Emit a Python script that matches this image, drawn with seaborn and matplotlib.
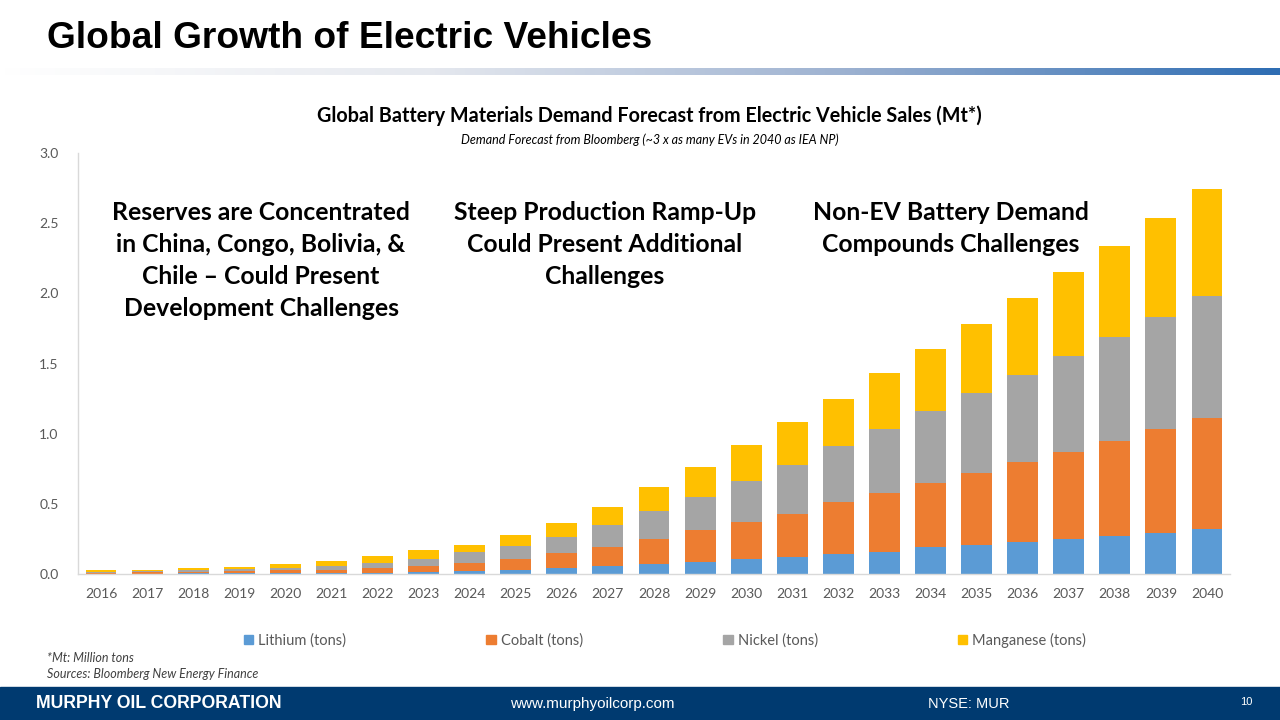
import numpy as np
import pandas as pd
import seaborn as sns
import matplotlib.pyplot as plt
from matplotlib.colors import LinearSegmentedColormap
from matplotlib.patches import Rectangle, Patch

years = [str(y) for y in range(2016, 2041)]
lithium = [0.002, 0.003, 0.004, 0.005, 0.006, 0.008, 0.010, 0.015, 0.020, 0.030, 0.043, 0.057,
           0.071, 0.086, 0.107, 0.12, 0.14, 0.16, 0.19, 0.21, 0.23, 0.25, 0.27, 0.29, 0.32]
cobalt = [0.008, 0.009, 0.011, 0.015, 0.019, 0.022, 0.035, 0.045, 0.060, 0.080, 0.107, 0.133,
          0.179, 0.224, 0.263, 0.31, 0.37, 0.42, 0.46, 0.51, 0.57, 0.62, 0.68, 0.74, 0.79]
nickel = [0.006, 0.008, 0.010, 0.015, 0.020, 0.030, 0.035, 0.050, 0.080, 0.090, 0.114, 0.160,
          0.200, 0.240, 0.290, 0.35, 0.40, 0.45, 0.51, 0.57, 0.62, 0.68, 0.74, 0.80, 0.87]
manganese = [0.009, 0.010, 0.015, 0.015, 0.025, 0.035, 0.050, 0.060, 0.050, 0.080, 0.099, 0.130,
             0.170, 0.210, 0.260, 0.30, 0.34, 0.40, 0.44, 0.49, 0.55, 0.60, 0.65, 0.71, 0.76]
series = ["Lithium (tons)", "Cobalt (tons)", "Nickel (tons)", "Manganese (tons)"]
colors = ["#5B9BD5", "#ED7D31", "#A5A5A5", "#FFC000"]

df = pd.DataFrame({"year": years, "Lithium (tons)": lithium, "Cobalt (tons)": cobalt,
                   "Nickel (tons)": nickel, "Manganese (tons)": manganese})
cum = df[series].cumsum(axis=1)

sns.set_style("white")
plt.rcParams['font.family'] = ['Lato', 'DejaVu Sans']
plt.rcParams['text.color'] = 'black'

fig = plt.figure(figsize=(12.8, 7.2), dpi=100)

# slide header
fig.text(47 / 1280, 1 - 38 / 720, "Global Growth of Electric Vehicles", fontsize=26.7,
         fontweight="bold", family="Liberation Sans", va="center", ha="left")
gax = fig.add_axes([0, 1 - 75 / 720, 1, 7 / 720])
grad = LinearSegmentedColormap.from_list("g", ["#ffffff", "#e6e9ef", "#9bb0d0", "#2e6db3"])
gax.imshow(np.linspace(0, 1, 256)[None, :], aspect="auto", cmap=grad)
gax.axis("off")

# footer banner
fig.patches.append(Rectangle((0, 0), 1, 33 / 720, transform=fig.transFigure,
                             color="#003a70", zorder=0))
fig.text(36 / 1280, 16 / 720, "MURPHY OIL CORPORATION", color="white", fontsize=12.7,
         fontweight="bold", family="Liberation Sans", va="center")
fig.text(510 / 1280, 16 / 720, "www.murphyoilcorp.com", color="white", fontsize=11,
         family="Liberation Sans", va="center")
fig.text(928 / 1280, 16 / 720, "NYSE: MUR", color="white", fontsize=10.5,
         family="Liberation Sans", va="center")
fig.text(1240 / 1280, 18 / 720, "10", color="white", fontsize=8,
         family="Liberation Sans", va="center")

# chart titles
fig.text(649 / 1280, 1 - 116 / 720,
         "Global Battery Materials Demand Forecast from Electric Vehicle Sales (Mt*)",
         fontsize=14.2, fontweight="bold", ha="center", va="center")
fig.text(650 / 1280, 1 - 140 / 720,
         "Demand Forecast from Bloomberg (~3 x as many EVs in 2040 as IEA NP)",
         fontsize=9, style="italic", ha="center", va="center")

ax = fig.add_axes([78 / 1280, 1 - 574 / 720, 1152 / 1280, 421 / 720])
for s, c in zip(reversed(series), reversed(colors)):
    sns.barplot(x=df["year"], y=cum[s], color=c, width=0.67, ax=ax,
                saturation=1, linewidth=0, zorder=2)

ax.set_xlim(-0.5, 24.5)
ax.set_ylim(0, 3.0)
ax.set_yticks(np.arange(0, 3.01, 0.5))
ax.set_yticklabels([f"{v:.1f}" for v in np.arange(0, 3.01, 0.5)])
ax.set_xlabel("")
ax.set_ylabel("")
ax.tick_params(axis="x", length=0, labelsize=10, colors="#595959", pad=10)
ax.tick_params(axis="y", length=0, labelsize=10, colors="#595959", pad=14)
for sp in ["top", "right"]:
    ax.spines[sp].set_visible(False)
for sp in ["left", "bottom"]:
    ax.spines[sp].set_color("#d9d9d9")
    ax.spines[sp].set_linewidth(1)

handles = [Patch(color=c) for c in colors]
fig.legend(handles, series, loc="center", bbox_to_anchor=(665 / 1280, 1 - 640 / 720), ncol=4,
           frameon=False, fontsize=10.5, handlelength=0.65, handleheight=0.65, handletextpad=0.35,
           columnspacing=9.6, labelcolor="#595959")

# annotations
notes = [(261, "Reserves are Concentrated\nin China, Congo, Bolivia, &\nChile \u2013 Could Present\nDevelopment Challenges"),
         (605, "Steep Production Ramp-Up\nCould Present Additional\nChallenges"),
         (951, "Non-EV Battery Demand\nCompounds Challenges")]
for x, t in notes:
    fig.text(x / 1280, 1 - 201 / 720, t, fontsize=17.8, fontweight="bold", ha="center",
             va="top", linespacing=1.47)

fig.text(47 / 1280, 1 - 658 / 720, "*Mt: Million tons", fontsize=9, style="italic",
         color="#404040", va="center")
fig.text(47 / 1280, 1 - 674 / 720, "Sources: Bloomberg New Energy Finance", fontsize=9,
         style="italic", color="#404040", va="center")

fig.savefig("out.png", dpi=100)
